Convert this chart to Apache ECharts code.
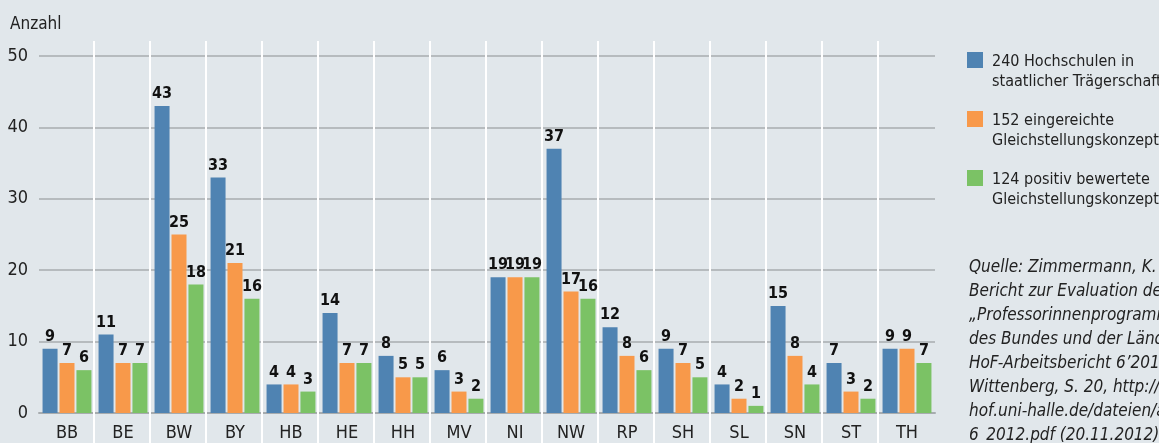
<!DOCTYPE html>
<html>
<head>
<meta charset="utf-8">
<script src="https://cdn.jsdelivr.net/npm/echarts@6/dist/echarts.min.js"></script>
<style>
  html, body { margin: 0; padding: 0; background: #e1e7eb; }
  #chart { width: 1159px; height: 443px; }
</style>
</head>
<body>
<div id="chart"></div>
<script>
const laender = ["BB", "BE", "BW", "BY", "HB", "HE", "HH", "MV", "NI", "NW", "RP", "SH", "SL", "SN", "ST", "TH"];
const hochschulen = [9, 11, 43, 33, 4, 14, 8, 6, 19, 37, 12, 9, 4, 15, 7, 9];
const eingereicht = [7, 7, 25, 21, 4, 7, 5, 3, 19, 17, 8, 7, 2, 8, 3, 9];
const positiv = [6, 7, 18, 16, 3, 7, 5, 2, 19, 16, 6, 5, 1, 4, 2, 7];
const seriesNames = [
    "240 Hochschulen in\nstaatlicher Trägerschaft",
    "152 eingereichte\nGleichstellungskonzepte",
    "124 positiv bewertete\nGleichstellungskonzepte"
];
const quelle = [
    "Quelle: Zimmermann, K. (2012):",
    "Bericht zur Evaluation des",
    "„Professorinnenprogramms",
    "des Bundes und der Länder“.",
    "HoF-Arbeitsbericht 6’2012,",
    "Wittenberg, S. 20, http://www.",
    "hof.uni-halle.de/dateien/ab_",
    "6_2012.pdf (20.11.2012)"
];

const font = "'DejaVu Sans Condensed', 'Liberation Sans Narrow', 'Noto Sans', sans-serif";
const colors = ["#4f83b2", "#f8994a", "#7bc265"];
// Quadrat oben im 16x40-Feld, damit es neben der ersten Textzeile steht
const legendIcon = "path://M0,0h16v16h-16z M0,39.99h0.01v0.01h-0.01z";

const chart = echarts.init(document.getElementById("chart"));

function barSeries(name, data, color) {
    return {
        name: name,
        type: "bar",
        data: data,
        barWidth: 15,
        barGap: "13%",
        itemStyle: { color: color },
        label: {
            show: true,
            position: "top",
            distance: 4,
            color: "#111",
            fontFamily: font,
            fontWeight: "bold",
            fontSize: 16
        }
    };
}

const option = {
    backgroundColor: "#e1e7eb",
    animation: false,
    textStyle: { fontFamily: font },
    grid: [
        { left: 39, right: 224, top: 56, bottom: 30 },
        // nur für die weißen Trennlinien zwischen den Ländern
        { left: 94, right: 281, top: 41, bottom: 0 }
    ],
    legend: {
        orient: "vertical",
        left: 967,
        top: 50,
        padding: 0,
        itemWidth: 16,
        itemHeight: 40,
        itemGap: 15,
        icon: legendIcon,
        selectedMode: false,
        textStyle: {
            fontFamily: font,
            fontSize: 16,
            color: "#222",
            lineHeight: 20,
            padding: [4, 0, 0, 4]
        }
    },
    xAxis: [
        {
            type: "category",
            data: laender,
            gridIndex: 0,
            axisLine: { lineStyle: { color: "#a7acaf", width: 2 } },
            axisTick: { show: false },
            axisLabel: { color: "#222", fontSize: 18, fontFamily: font, margin: 11 },
            splitLine: { show: false }
        },
        {
            type: "value",
            gridIndex: 1,
            min: 1,
            max: 15,
            interval: 1,
            z: 1,
            axisLine: { show: false },
            axisTick: { show: false },
            axisLabel: { show: false },
            splitLine: { show: true, lineStyle: { color: "#ffffff", width: 2 } }
        }
    ],
    yAxis: [
        {
            type: "value",
            gridIndex: 0,
            min: 0,
            max: 50,
            interval: 10,
            axisLine: { show: false },
            axisTick: { show: false },
            axisLabel: { color: "#222", fontSize: 18, fontFamily: font, margin: 11 },
            splitLine: { lineStyle: { color: "#a7acaf", width: 1.5 } }
        },
        {
            type: "value",
            gridIndex: 1,
            show: false
        }
    ],
    graphic: [
        {
            type: "text",
            left: 10,
            top: 16,
            style: { text: "Anzahl", fill: "#222", font: "17px " + font }
        },
        {
            type: "text",
            left: 969,
            top: 256,
            style: {
                text: quelle.join("\n"),
                fill: "#222",
                font: "italic 17px " + font,
                lineHeight: 24
            }
        }
    ],
    series: [
        barSeries(seriesNames[0], hochschulen, colors[0]),
        barSeries(seriesNames[1], eingereicht, colors[1]),
        barSeries(seriesNames[2], positiv, colors[2])
    ]
};

chart.setOption(option);
window.addEventListener("resize", () => chart.resize());
</script>
</body>
</html>
